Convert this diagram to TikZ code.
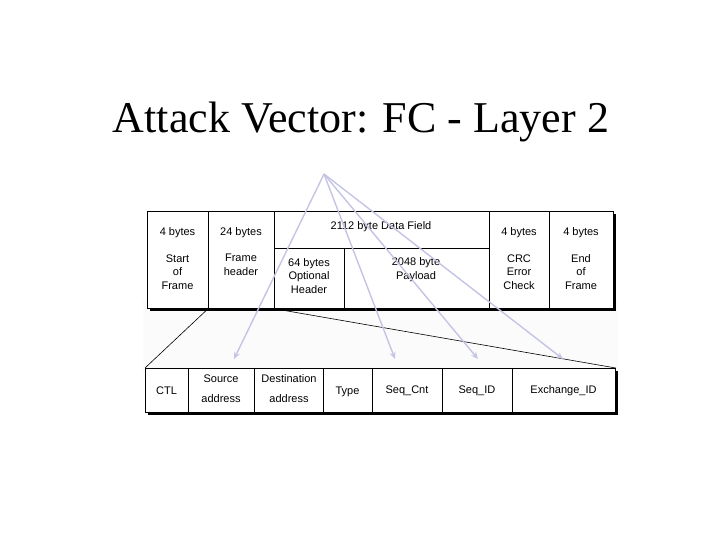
\documentclass[tikz,border=0pt]{standalone}
\usepackage{fontspec}
\setmainfont{Liberation Serif}
\newfontfamily\cellfont{Liberation Sans}
\usetikzlibrary{arrows.meta}
\definecolor{arrowc}{RGB}{196,196,228}
\begin{document}
\begin{tikzpicture}[x=1pt,y=-1pt,
  cellbox/.style={draw=black,line width=0.8pt,fill=white,inner sep=0pt,anchor=north west},
  celltext/.style={font=\cellfont\fontsize{11}{13.5}\selectfont,align=center,inner sep=0pt,anchor=base},
  shadowbox/.style={fill=black},
  zoomline/.style={draw=black,line width=0.6pt},
  ptr/.style={draw=arrowc,line width=1.4pt,-{Stealth[length=7pt,width=6pt]}}]
\useasboundingbox (0,0) rectangle (720,540);
\node[font=\fontsize{44}{50}\selectfont,inner sep=0pt] (title) at (361,122) {Attack Vector: FC - Layer 2};
% faint background band
\fill[gray!3] (143,300) rectangle (618,372);
% shadows
\fill[shadowbox] (150,214) rectangle (616,311);
\fill[shadowbox] (148,371) rectangle (618,415);
% top frame cells
\node[cellbox,minimum width=61,minimum height=97] (sof) at (147,211) {};
\node[cellbox,minimum width=66,minimum height=97] (fh) at (208,211) {};
\node[cellbox,minimum width=215,minimum height=37] (df) at (274,211) {};
\node[cellbox,minimum width=70,minimum height=60] (oh) at (274,248) {};
\node[cellbox,minimum width=145,minimum height=60] (pl) at (344,248) {};
\node[cellbox,minimum width=60,minimum height=97] (crc) at (489,211) {};
\node[cellbox,minimum width=64,minimum height=97] (eof) at (549,211) {};
% top texts (base = baseline of last line)
\node[celltext] (t1) at (177.5,236) {4 bytes};
\node[celltext] (t2) at (241,236) {24 bytes};
\node[celltext] (t3) at (381,229.5) {2112 byte Data Field};
\node[celltext] (t4) at (519,236) {4 bytes};
\node[celltext] (t5) at (581,236) {4 bytes};
\node[celltext] (t6) at (177.5,289) {Start\\of\\Frame};
\node[celltext] (t7) at (241,275.5) {Frame\\header};
\node[celltext] (t8) at (309,293) {64 bytes\\Optional\\Header};
\node[celltext] (t9) at (416,279.5) {2048 byte\\Payload};
\node[celltext] (t10) at (519,289) {CRC\\Error\\Check};
\node[celltext] (t11) at (581,289) {End\\of\\Frame};
% bottom frame cells
\node[cellbox,minimum width=43,minimum height=44] (ctl) at (145,368) {};
\node[cellbox,minimum width=66,minimum height=44] (src) at (188,368) {};
\node[cellbox,minimum width=69,minimum height=44] (dst) at (254,368) {};
\node[cellbox,minimum width=49,minimum height=44] (typ) at (323,368) {};
\node[cellbox,minimum width=70,minimum height=44] (cnt) at (372,368) {};
\node[cellbox,minimum width=70,minimum height=44] (sid) at (442,368) {};
\node[cellbox,minimum width=103,minimum height=44] (xid) at (512,368) {};
\node[celltext] (b1) at (166.5,394) {CTL};
\node[celltext] (b2) at (221,402) {Source\\[6.5pt]address};
\node[celltext] (b3) at (289,402) {Destination\\[6.5pt]address};
\node[celltext] (b4) at (347.5,394) {Type};
\node[celltext] (b5) at (407,393.5) {Seq\_Cnt};
\node[celltext] (b6) at (477,393) {Seq\_ID};
\node[celltext] (b7) at (563.5,393) {Exchange\_ID};
% zoom lines
\draw[zoomline] (fh.south west) -- (ctl.north west);
\draw[zoomline] (fh.south east) -- (xid.north east);
% pointer arrows
\coordinate (apex) at (324,174);
\coordinate (p1) at (234,359);
\coordinate (p2) at (395,359);
\coordinate (p3) at (478,359);
\coordinate (p4) at (563,359);
\draw[ptr] (apex) -- (p1);
\draw[ptr] (apex) -- (p2);
\draw[ptr] (apex) -- (p3);
\draw[ptr] (apex) -- (p4);
\end{tikzpicture}
\end{document}
